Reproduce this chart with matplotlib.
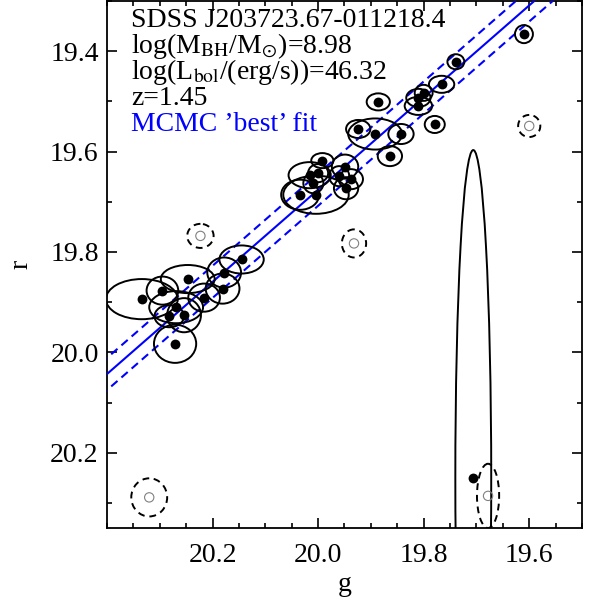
import matplotlib
matplotlib.use("Agg")
import matplotlib.pyplot as plt
from matplotlib.patches import Ellipse
import numpy as np

plt.rcParams['font.family'] = ['Liberation Serif', 'DejaVu Serif']
plt.rcParams['mathtext.fontset'] = 'stix'

# detected epochs: g, r, and 1-sigma error ellipse semi-axes
g_det = [19.610, 19.739, 19.766, 19.800, 19.810, 19.810, 19.886, 19.779, 19.924, 19.892,
         19.843, 19.864, 19.992, 19.949, 20.016, 20.000, 19.960, 19.938, 20.009, 19.947,
         20.004, 20.034, 20.145, 20.178, 20.181, 20.247, 20.295, 20.334, 20.216, 20.269,
         20.282, 20.254, 20.271, 19.706]
r_det = [19.366, 19.421, 19.466, 19.483, 19.493, 19.509, 19.501, 19.546, 19.555, 19.565,
         19.565, 19.609, 19.618, 19.630, 19.647, 19.643, 19.649, 19.655, 19.663, 19.673,
         19.686, 19.686, 19.815, 19.841, 19.873, 19.854, 19.877, 19.894, 19.891, 19.910,
         19.928, 19.926, 19.983, 20.250]
ge_det = [0.017, 0.016, 0.024, 0.017, 0.023, 0.026, 0.022, 0.019, 0.023, 0.051,
          0.024, 0.023, 0.021, 0.025, 0.040, 0.019, 0.019, 0.023, 0.019, 0.023,
          0.062, 0.036, 0.042, 0.032, 0.032, 0.051, 0.030, 0.068, 0.030, 0.051,
          0.028, 0.032, 0.040, 0.034]
re_det = [0.018, 0.015, 0.017, 0.016, 0.018, 0.018, 0.017, 0.017, 0.018, 0.031,
          0.020, 0.020, 0.015, 0.024, 0.026, 0.018, 0.020, 0.020, 0.020, 0.022,
          0.038, 0.030, 0.028, 0.030, 0.030, 0.028, 0.028, 0.040, 0.028, 0.032,
          0.022, 0.034, 0.038, 0.653]

# rejected epochs (dashed)
g_rej = [19.600, 20.223, 19.932, 20.320, 19.678]
r_rej = [19.549, 19.768, 19.783, 20.289, 20.286]
ge_rej = [0.021, 0.025, 0.023, 0.034, 0.021]
re_rej = [0.022, 0.024, 0.028, 0.038, 0.064]

# MCMC best fit r = a + b*g, with band
fit_a = 1.316
fit_b = 0.918
fit_off = 0.032

labels = ["SDSS J203723.67-011218.4",
          r"log(M$_{\rm BH}$/M$_{\odot}$)=8.98",
          r"log(L$_{\rm bol}$/(erg/s))=46.32",
          "z=1.45"]
fit_label = "MCMC \u2019best\u2019 fit"

FS = 20

fig = plt.figure(figsize=(5.93, 6.02), dpi=100)
ax = fig.add_axes([107/593, 74/602, 475/593, 527/602])

gl = np.array([20.45, 19.45])
ax.plot(gl, fit_a + fit_b*gl, color='blue', lw=1.5, zorder=3)
ax.plot(gl, fit_a + fit_b*gl - fit_off, color='blue', lw=1.5, ls=(0, (4, 2.5)), zorder=3)
ax.plot(gl, fit_a + fit_b*gl + fit_off, color='blue', lw=1.5, ls=(0, (4, 2.5)), zorder=3)

for g, r, ge, re in zip(g_det, r_det, ge_det, re_det):
    ax.add_patch(Ellipse((g, r), 2*ge, 2*re, fill=False, ec='black', lw=1.4, zorder=4))
ax.scatter(g_det, r_det, s=50, color='black', zorder=5, linewidths=0)

for g, r, ge, re in zip(g_rej, r_rej, ge_rej, re_rej):
    ax.add_patch(Ellipse((g, r), 2*ge, 2*re, fill=False, ec='black', lw=1.4,
                         ls=(0, (3.5, 2.5)), zorder=4))
ax.scatter(g_rej, r_rej, s=45, facecolor='none', edgecolor='gray', linewidths=0.8, zorder=5)

ax.set_xlim(20.4, 19.5)
ax.set_ylim(20.35, 19.3)
ax.set_xticks([20.2, 20.0, 19.8, 19.6])
ax.set_xticklabels(["20.2", "20.0", "19.8", "19.6"])
ax.set_xticks(np.arange(19.5, 20.401, 0.05), minor=True)
ax.set_yticks([19.4, 19.6, 19.8, 20.0, 20.2])
ax.set_yticklabels(["19.4", "19.6", "19.8", "20.0", "20.2"])
ax.set_yticks(np.arange(19.3, 20.351, 0.1), minor=True)
ax.tick_params(which='both', direction='in', top=True, right=True, labelsize=FS, width=1.2)
ax.tick_params(which='major', length=7)
ax.tick_params(which='minor', length=3.5)
ax.tick_params(axis='x', pad=11)
ax.tick_params(axis='y', pad=6)
for s in ax.spines.values():
    s.set_linewidth(1.3)

ax.set_xlabel("g", fontsize=FS, labelpad=3)
ax.set_ylabel("r", fontsize=FS, labelpad=12)

baselines = [27, 53, 79, 105]
for t, b in zip(labels, baselines):
    fig.text(131/593, 1 - b/602, t, fontsize=FS, va='baseline', ha='left', color='black')
fig.text(131/593, 1 - 131/602, fit_label, fontsize=FS, va='baseline', ha='left', color='blue')

fig.savefig("out.png", dpi=100)
